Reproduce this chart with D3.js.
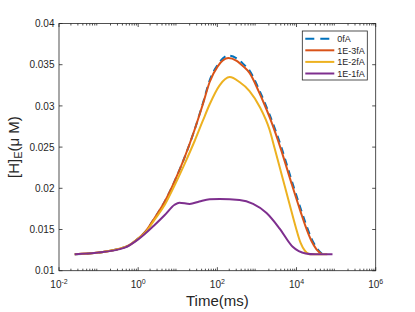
<!DOCTYPE html>
<html>
<head>
<meta charset="utf-8">
<script src="https://cdn.jsdelivr.net/npm/d3@7"></script>
<style>
  body { margin: 0; background: #fff; }
  svg { display: block; font-family: "Liberation Sans", Arial, sans-serif; }
</style>
</head>
<body>
<div id="chart"></div>
<script>
// series data (time in ms, [H]_E in uM)
var seriesNames = ["0fA", "1E-3fA", "1E-2fA", "1E-1fA"];
var seriesColors = ["#0072BD", "#D95319", "#EDB120", "#7E2F8E"];

var t0fA = [0.025, 0.1, 0.3, 0.6, 1, 1.5, 2.6, 4.7, 8.4, 15, 27, 43, 64, 102, 190, 300, 450, 650, 1100, 1540, 2100, 4064, 7470, 12590, 16840, 23870, 31900, 45000];
var v0fA = [0.0120, 0.0122, 0.0126, 0.0131, 0.0139, 0.0147, 0.0164, 0.0184, 0.0209, 0.0238, 0.0272, 0.0303, 0.0331, 0.0350, 0.0361, 0.0358, 0.0351, 0.0343, 0.0321, 0.0305, 0.0289, 0.0251, 0.0210, 0.0176, 0.0158, 0.0139, 0.0128, 0.0120];

var t1e3 = [0.025, 0.1, 0.3, 0.6, 1, 1.5, 2.6, 4.7, 8.4, 15, 27, 43, 64, 102, 190, 300, 450, 650, 1100, 1540, 2100, 4064, 7470, 12590, 16840, 23870, 31900, 43900];
var v1e3 = [0.0120, 0.0122, 0.0126, 0.0131, 0.0139, 0.0147, 0.0164, 0.0184, 0.0209, 0.0238, 0.0272, 0.0302, 0.0329, 0.0348, 0.0358, 0.0355, 0.0348, 0.0340, 0.0318, 0.0302, 0.0286, 0.0247, 0.0206, 0.0172, 0.0154, 0.0136, 0.0126, 0.0120];

var t1e2 = [0.025, 0.1, 0.3, 0.6, 1, 1.5, 2.6, 4.7, 8.4, 15, 27, 43, 64, 114, 205, 363, 650, 1170, 2084, 2786, 4305, 6650, 9420, 12590, 16370, 21240, 60000];
var v1e2 = [0.0120, 0.0122, 0.0126, 0.0131, 0.0139, 0.0146, 0.0162, 0.0180, 0.0204, 0.0230, 0.0258, 0.0282, 0.0302, 0.0325, 0.0335, 0.0329, 0.0318, 0.0299, 0.0271, 0.0249, 0.0215, 0.0181, 0.0154, 0.0134, 0.0124, 0.0120, 0.0120];

var t1e1 = [0.025, 0.1, 0.46, 1, 1.47, 2.6, 4.7, 8.3, 11, 20, 35, 64, 115, 363, 800, 1750, 3700, 8000, 17000, 30000, 81000];
var v1e1 = [0.0120, 0.0122, 0.0128, 0.0138, 0.01445, 0.01555, 0.01676, 0.0180, 0.01826, 0.0181, 0.0184, 0.01867, 0.0187, 0.01858, 0.0181, 0.0170, 0.01515, 0.0129, 0.0121, 0.0120, 0.0120];

var yTicks = [0.01, 0.015, 0.02, 0.025, 0.03, 0.035, 0.04];
var yTickLabels = ["0.01", "0.015", "0.02", "0.025", "0.03", "0.035", "0.04"];
var xTicks = [1e-2, 1e0, 1e2, 1e4, 1e6];
var xTickExp = ["-2", "0", "2", "4", "6"];

var W = 415, H = 312;
var margin = { top: 23.5, right: 39.3, bottom: 41.3, left: 59 };
var width = W - margin.left - margin.right;
var height = H - margin.top - margin.bottom;
var axisColor = "#262626";

var svg = d3.select("#chart").append("svg")
  .attr("width", W)
  .attr("height", H);

var g = svg.append("g")
  .attr("transform", "translate(" + margin.left + "," + margin.top + ")");

var x = d3.scaleLog().domain([1e-2, 1e6]).range([0, width]);
var y = d3.scaleLinear().domain([0.01, 0.04]).range([height, 0]);

// minor ticks for the log axis
var minor = [];
for (var e = -2; e < 6; e++) {
  for (var m = 2; m <= 9; m++) minor.push(m * Math.pow(10, e));
}

// box
g.append("rect")
  .attr("width", width)
  .attr("height", height)
  .attr("fill", "none")
  .attr("stroke", axisColor)
  .attr("stroke-width", 0.8);

// ticks, inward on all four sides
var ticks = g.append("g").attr("stroke", axisColor).attr("stroke-width", 0.8);
minor.forEach(function(v) {
  ticks.append("line").attr("x1", x(v)).attr("x2", x(v)).attr("y1", height).attr("y2", height - 2);
  ticks.append("line").attr("x1", x(v)).attr("x2", x(v)).attr("y1", 0).attr("y2", 2);
});
xTicks.forEach(function(v) {
  ticks.append("line").attr("x1", x(v)).attr("x2", x(v)).attr("y1", height).attr("y2", height - 3.5);
  ticks.append("line").attr("x1", x(v)).attr("x2", x(v)).attr("y1", 0).attr("y2", 3.5);
});
yTicks.forEach(function(v) {
  ticks.append("line").attr("x1", 0).attr("x2", 3.5).attr("y1", y(v)).attr("y2", y(v));
  ticks.append("line").attr("x1", width).attr("x2", width - 3.5).attr("y1", y(v)).attr("y2", y(v));
});

// y tick labels
g.selectAll(".ylab")
  .data(yTicks)
  .enter().append("text")
  .attr("class", "ylab")
  .attr("x", -4.5)
  .attr("y", function(d) { return y(d) + 3.6; })
  .attr("text-anchor", "end")
  .attr("font-size", 10)
  .attr("fill", axisColor)
  .text(function(d, i) { return yTickLabels[i]; });

// x tick labels 10^n
xTicks.forEach(function(v, i) {
  var t = g.append("text")
    .attr("x", x(v))
    .attr("y", height + 17.5)
    .attr("text-anchor", "middle")
    .attr("fill", axisColor)
    .attr("font-size", 10);
  t.append("tspan").text("10");
  t.append("tspan").attr("dy", -4.5).attr("font-size", 7).text(xTickExp[i]);
});

// axis labels
svg.append("text")
  .attr("x", margin.left + width / 2)
  .attr("y", 305.5)
  .attr("text-anchor", "middle")
  .attr("font-size", 15)
  .attr("fill", axisColor)
  .text("Time(ms)");

var yl = svg.append("text")
  .attr("transform", "translate(18.5," + (margin.top + height / 2) + ") rotate(-90)")
  .attr("text-anchor", "middle")
  .attr("font-size", 15)
  .attr("fill", axisColor);
yl.append("tspan").text("[H]");
yl.append("tspan").attr("dy", 3.5).attr("font-size", 11).text("E");
yl.append("tspan").attr("dy", -3.5).text("(\u03bc M)");

// curves
var line = d3.line()
  .x(function(d) { return x(d[0]); })
  .y(function(d) { return y(d[1]); })
  .curve(d3.curveMonotoneX);

var series = [
  d3.zip(t0fA, v0fA),
  d3.zip(t1e3, v1e3),
  d3.zip(t1e2, v1e2),
  d3.zip(t1e1, v1e1)
];

series.forEach(function(s, i) {
  g.append("path")
    .datum(s)
    .attr("d", line)
    .attr("fill", "none")
    .attr("stroke", seriesColors[i])
    .attr("stroke-width", 2)
    .attr("stroke-dasharray", i === 0 ? "7,5" : null)
    .attr("stroke-linejoin", "round");
});

// legend
var lg = svg.append("g").attr("transform", "translate(302.3,31)");
lg.append("rect")
  .attr("width", 65)
  .attr("height", 49)
  .attr("fill", "#fff")
  .attr("stroke", axisColor)
  .attr("stroke-width", 0.8);

seriesNames.forEach(function(name, i) {
  var yy = 7.7 + i * 11.6;
  lg.append("line")
    .attr("x1", 3).attr("x2", 32)
    .attr("y1", yy).attr("y2", yy)
    .attr("stroke", seriesColors[i])
    .attr("stroke-width", 2)
    .attr("stroke-dasharray", i === 0 ? "9,6" : null);
  lg.append("text")
    .attr("x", 35)
    .attr("y", yy + 3.2)
    .attr("font-size", 9)
    .attr("fill", axisColor)
    .text(name);
});
</script>
</body>
</html>
